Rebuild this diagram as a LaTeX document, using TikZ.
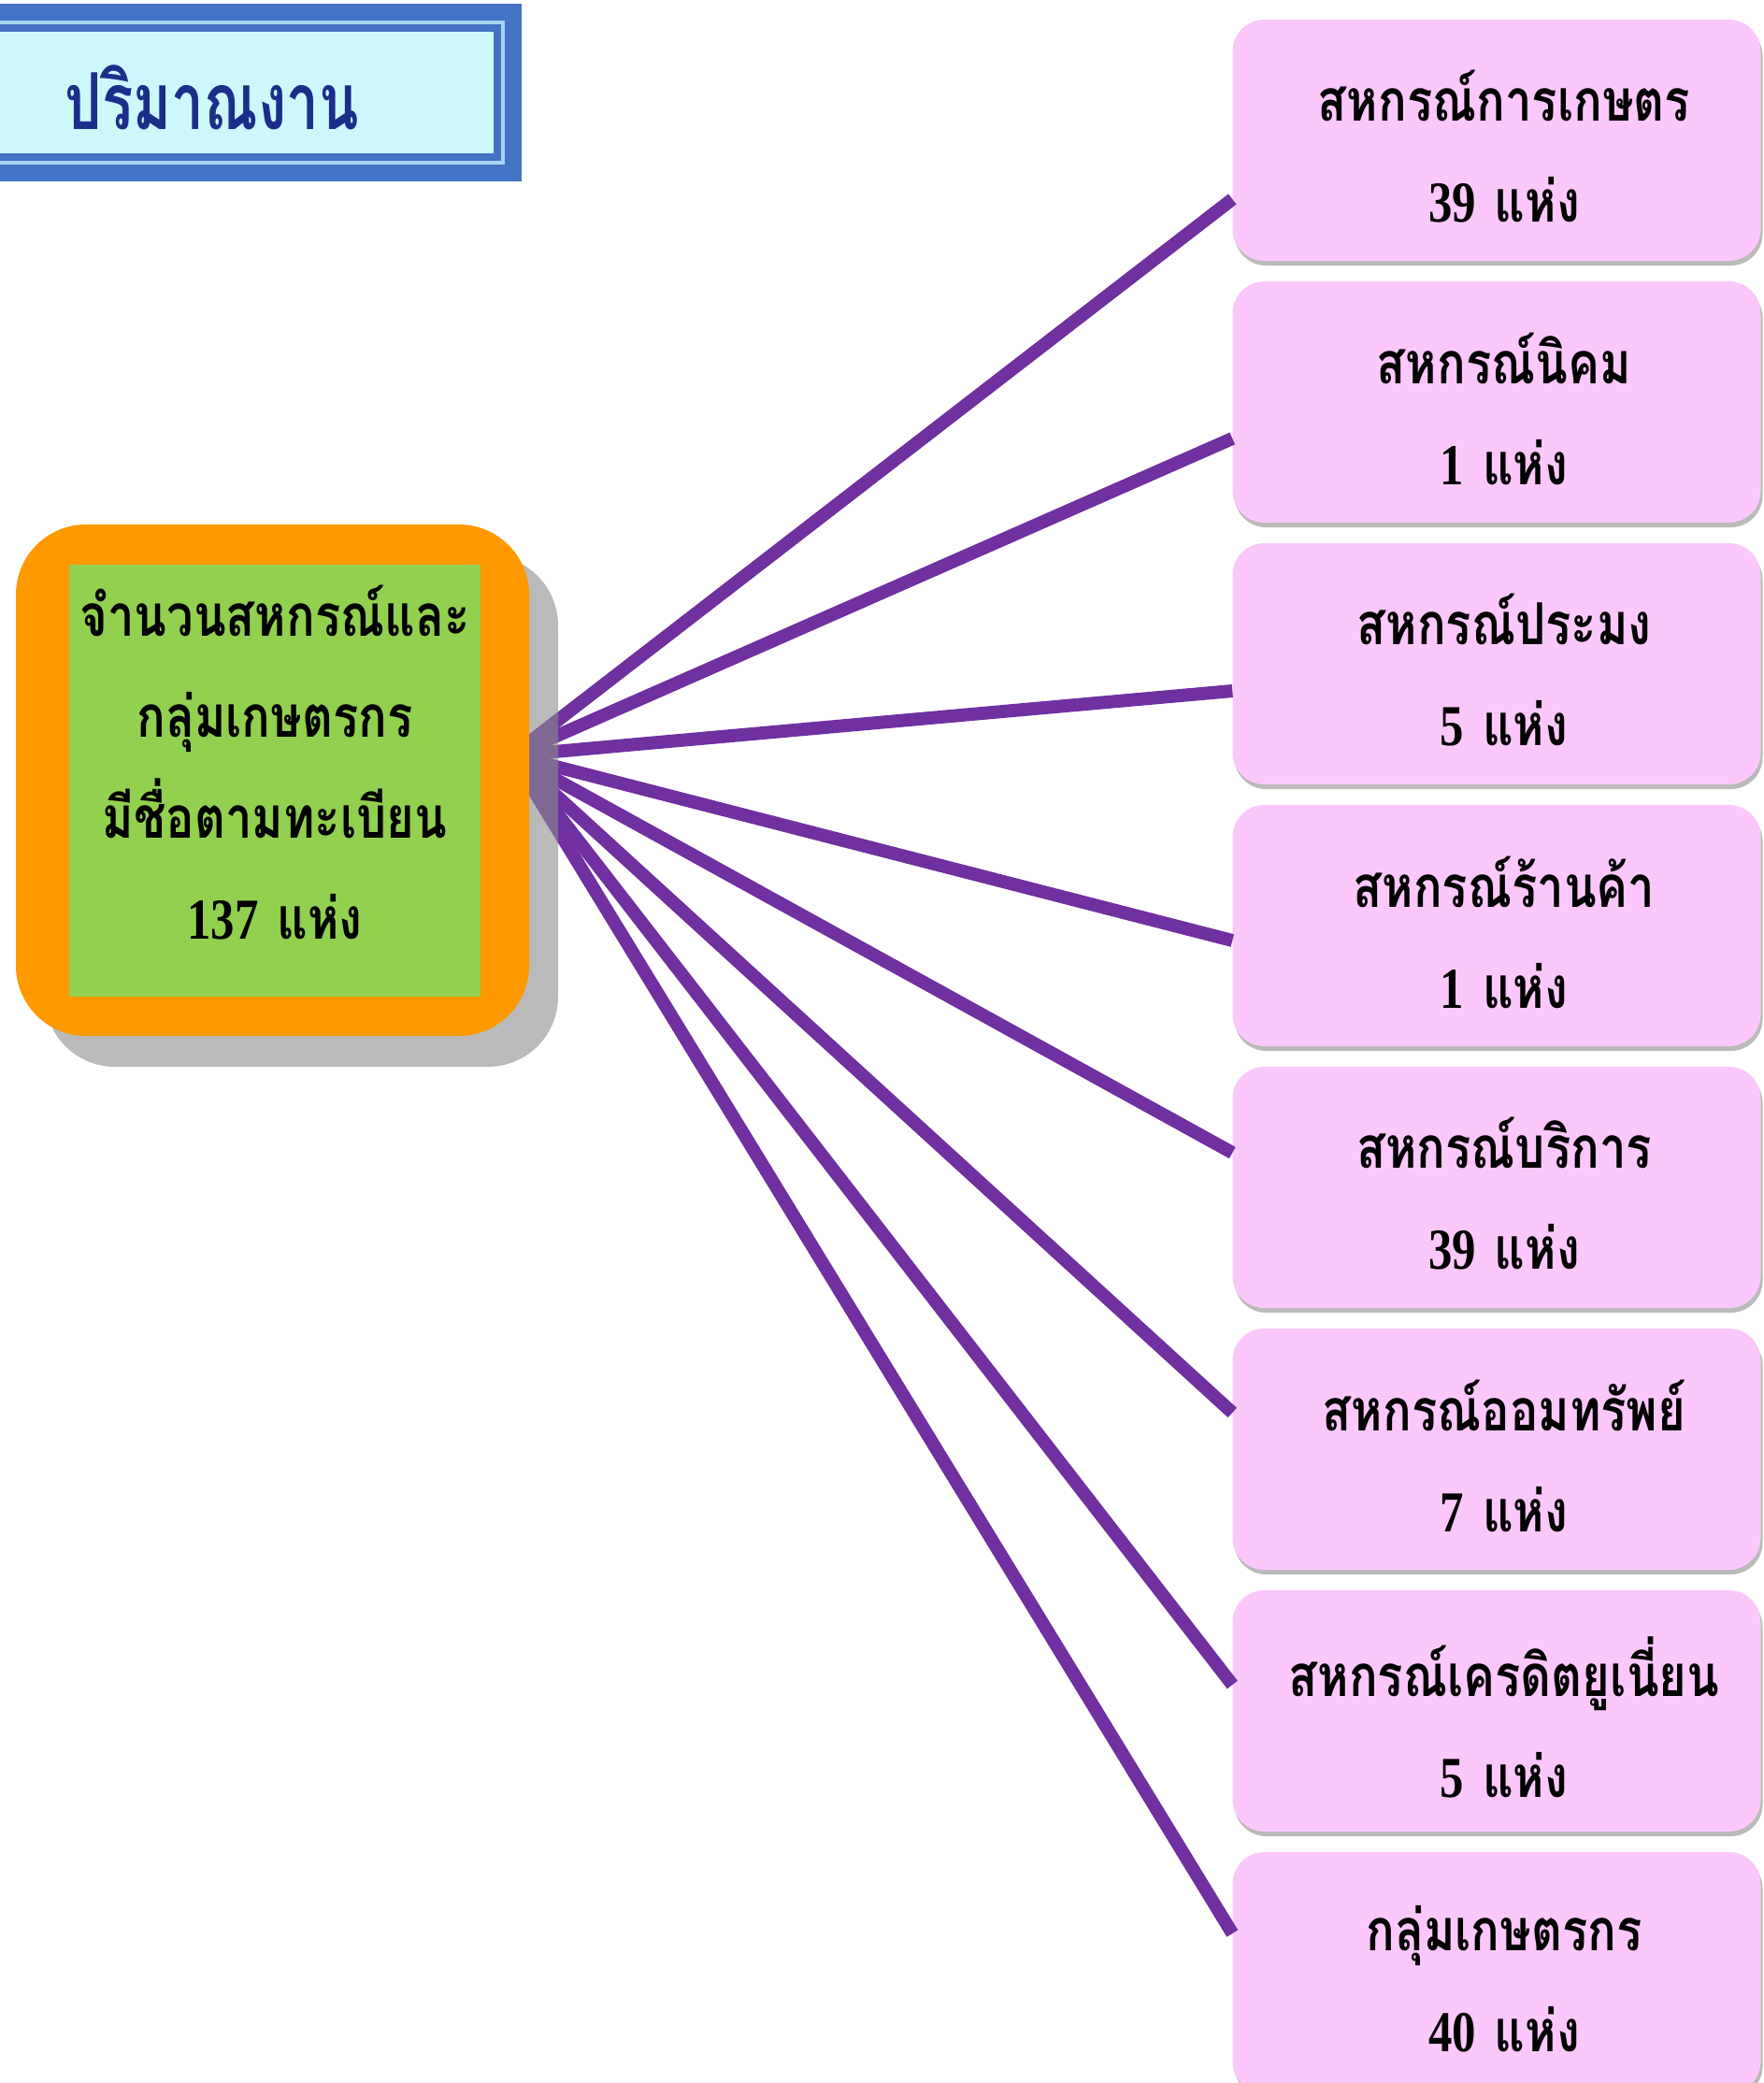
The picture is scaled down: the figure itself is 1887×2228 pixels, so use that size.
\documentclass[tikz,border=0pt]{standalone}
\usepackage{fontspec}
\newfontfamily\thaifont[Script=Thai]{Loma}
\newfontfamily\numfont{Liberation Serif}
\usetikzlibrary{calc}
\definecolor{tblue}{HTML}{4472C4}
\definecolor{tline}{HTML}{A8D4F2}
\definecolor{tfill}{HTML}{CCF8FC}
\definecolor{ttext}{HTML}{1A2F8A}
\definecolor{orng}{HTML}{FF9900}
\definecolor{grn}{HTML}{92D050}
\definecolor{pnk}{HTML}{FCC8FC}
\definecolor{purp}{HTML}{7030A0}
\definecolor{shd}{HTML}{8C8C8C}
\newcommand{\thx}[1]{\scalebox{0.82}[1]{#1}}
\newcommand{\boxtext}[2]{\thx{\thaifont\bfseries #1}\\\thx{\numfont\bfseries #2\hspace{24pt}\thaifont\bfseries แห่ง}}
\tikzset{
  pinkbox/.style={rectangle, fill=pnk, rounded corners=34pt, minimum width=565pt, minimum height=258pt, inner sep=0pt},
  pinkshadow/.style={rectangle, fill=shd, opacity=0.6, rounded corners=34pt, minimum width=565pt, minimum height=258pt, inner sep=0pt},
  boxlbl/.style={align=center, font=\fontsize{62}{108}\selectfont, inner sep=0pt},
  spoke/.style={draw=purp, line width=14pt},
}
\begin{document}
\begin{tikzpicture}[x=1pt,y=-1pt]
\useasboundingbox (0,0) rectangle (1887,2228);
\clip (0,0) rectangle (1887,2228);
\fill[white] (0,0) rectangle (1887,2228);
% title box
\node[rectangle, fill=tblue, minimum width=578pt, minimum height=190pt, inner sep=0pt, anchor=north west] (tbox) at (-20,4) {};
\fill[tline] ($(tbox.north west)+(0,18)$) rectangle ($(tbox.south east)+(-18,-18)$);
\fill[tblue] ($(tbox.north west)+(0,22)$) rectangle ($(tbox.south east)+(-22,-22)$);
\fill[tfill] ($(tbox.north west)+(0,30)$) rectangle ($(tbox.south east)+(-30,-30)$);
\node[text=ttext, font=\fontsize{84}{90}\selectfont, inner sep=0pt] (title) at (227,104) {\scalebox{0.74}[1]{\thaifont\bfseries ปริมาณงาน}};
% pink boxes
\foreach \i/\nm/\n in {1/สหกรณ์การเกษตร/39, 2/สหกรณ์นิคม/1, 3/สหกรณ์ประมง/5, 4/สหกรณ์ร้านค้า/1, 5/สหกรณ์บริการ/39, 6/สหกรณ์ออมทรัพย์/7, 7/สหกรณ์เครดิตยูเนี่ยน/5, 8/กลุ่มเกษตรกร/40}{
  \node[pinkshadow] (s\i) at (1603,{150+280*(\i-1)+5}) {};
  \node[pinkbox] (b\i) at (1601,{150+280*(\i-1)}) {};
  \node[boxlbl] (t\i) at ($(b\i)+(8,7)$) {\boxtext{\nm}{\n}};
}
% spokes
\coordinate (hub) at (548,808);
\draw[spoke] (hub) -- ([yshift=-63pt]b1.west);
\draw[spoke] (hub) -- ([yshift=-39pt]b2.west);
\draw[spoke] (hub) -- ([yshift=-29pt]b3.west);
\draw[spoke] (hub) -- ([yshift=-16pt]b4.west);
\draw[spoke] (hub) -- ([yshift=37pt]b5.west);
\draw[spoke] (hub) -- ([yshift=39pt]b6.west);
\draw[spoke] (hub) -- ([yshift=28pt]b7.west);
\draw[spoke] (hub) -- ([yshift=42pt]b8.west);
% center box
\node[rectangle, fill=shd, opacity=0.6, rounded corners=75pt, minimum width=549pt, minimum height=547pt] (cs) at (322.5,867.5) {};
\node[rectangle, fill=orng, rounded corners=75pt, minimum width=549pt, minimum height=547pt] (cbox) at (291.5,834.5) {};
\fill[grn] (74,604) rectangle (514,1066);
\node[boxlbl] (ctext) at (294,816) {\thx{\thaifont\bfseries จำนวนสหกรณ์และ}\\\thx{\thaifont\bfseries กลุ่มเกษตรกร}\\\thx{\thaifont\bfseries มีชื่อตามทะเบียน}\\\thx{\numfont\bfseries 137\hspace{24pt}\thaifont\bfseries แห่ง}};
\end{tikzpicture}
\end{document}
